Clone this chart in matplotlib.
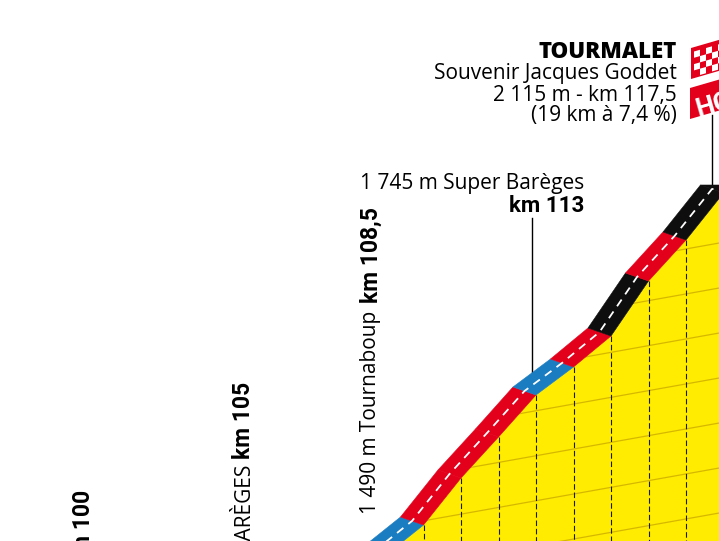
import numpy as np
import matplotlib
matplotlib.use("Agg")
import matplotlib.pyplot as plt
from matplotlib.patches import Polygon

# --- data: profile of the last kilometres (km, altitude m) ---
km = [108.5, 109.5, 110.5, 111.5, 112.5, 113.5, 114.5, 115.5, 116.5, 117.5, 118.5]
alt = [1391, 1451, 1545, 1627, 1711, 1767, 1829, 1939, 2021, 2115, 2115]
# colour class of each 1 km piece (between km[i] and km[i+1])
seg_class = ['blue', 'red', 'red', 'red', 'blue', 'red', 'black', 'red', 'black', 'black']
# faint perspective lines in the yellow area: altitude at km 118, rise per km
grid_alt = [1459, 1549, 1639, 1729, 1819, 1909, 1999, 2089]
grid_rise = 13.4

summit_km, summit_alt = 117.5, 2115
barege_km, barege_alt = 113.0, 1739

colors = {'blue': '#1a7cc1', 'red': '#e3001b', 'black': '#0e0e0e'}
YELLOW = '#ffec00'

# --- scales (km and metres per pixel of the 719x541 picture) ---
KM_PX = 37.5
M_PX = 2.0
X0, X1 = 98.82, 98.82 + 719 / KM_PX
Y0, Y1 = 2485 - 541 * M_PX, 2485
DX, DY = 23 / KM_PX, -8 * M_PX   # depth of the road ribbon


def pix(x, y):
    # picture pixel -> data
    return X0 + x / KM_PX, Y1 - y * M_PX


def skew_box(x, y, w, h, s):
    pts = [(x, y), (x + w, y - s * w), (x + w, y + h - s * w), (x, y + h)]
    return [pix(px, py) for px, py in pts]


fig = plt.figure(figsize=(7.19, 5.41), dpi=100)
ax = fig.add_axes([0, 0, 1, 1])
ax.set_xlim(X0, X1)
ax.set_ylim(Y0, Y1)
ax.axis('off')

km = np.array(km, dtype=float)
alt = np.array(alt, dtype=float)
bk, ba = km + DX, alt + DY

# yellow body under the road
body = list(zip(bk, ba)) + [(bk[-1], Y0 - 100), (bk[0], Y0 - 100)]
yellow = Polygon(body, closed=True, facecolor=YELLOW, edgecolor='none', zorder=1)
ax.add_patch(yellow)

xx = np.array([X0 - 1, X1 + 1])
for g in grid_alt:
    ln, = ax.plot(xx, g + grid_rise * (xx - 118), color='#c8a600', lw=0.9,
                  alpha=0.75, zorder=2)
    ln.set_clip_path(yellow)

# km markers
for i in range(len(km) - 2):
    ax.plot([bk[i], bk[i]], [ba[i], Y0 - 50], color='#1a1a1a', lw=0.8,
            linestyle=(0, (5, 2.5)), zorder=3)

# road ribbon
for i, c in enumerate(seg_class):
    quad = [(km[i], alt[i]), (km[i + 1], alt[i + 1]),
            (bk[i + 1], ba[i + 1]), (bk[i], ba[i])]
    ax.add_patch(Polygon(quad, closed=True, facecolor=colors[c],
                         edgecolor=colors[c], lw=0.4, zorder=4))
ax.plot(km + DX / 2, alt + DY / 2, color='white', lw=1.3,
        linestyle=(0, (4.5, 3.5)), zorder=5)

# summit pole and flags
line_km = summit_km + 0.3
ax.plot([line_km, line_km], [summit_alt, summit_alt + 140], color='black', lw=1.0, zorder=3)
ax.add_patch(Polygon(skew_box(691, 48, 45, 31, 0.29), closed=True,
                     facecolor='#e3001b', edgecolor='none', zorder=6))
for r in range(4):
    for c in range(6):
        if (r + c) % 2 == 0:
            cell = skew_box(694 + c * 6, 51.5 + r * 6.3 - 0.29 * c * 6, 6, 6.3, 0.29)
            ax.add_patch(Polygon(cell, closed=True, facecolor='white',
                                 edgecolor='none', zorder=7))
ax.add_patch(Polygon(skew_box(690, 88, 45, 31, 0.29), closed=True,
                     facecolor='#e3001b', edgecolor='none', zorder=6))
hx, hy = pix(693, 105)
ax.text(hx, hy, 'HC', color='white', fontsize=19, fontweight='bold',
        family='Roboto', rotation=16, ha='left', va='center', zorder=8)

REG = 'Open Sans'
BOLD = 'Roboto'
tx, _ = pix(677, 0)
ax.text(tx, pix(0, 52)[1], 'TOURMALET', family=REG, fontweight='heavy',
        fontsize=16, ha='right', va='center')
ax.text(tx, pix(0, 74)[1], 'Souvenir Jacques Goddet', family=REG,
        fontsize=15, ha='right', va='center')
ax.text(tx, pix(0, 95)[1], '2 115 m - km 117,5', family=REG,
        fontsize=15, ha='right', va='center')
ax.text(tx, pix(0, 116)[1], '(19 km à 7,4 %)', family=REG,
        fontsize=15, ha='right', va='center')

# Super Barèges
sx, _ = pix(584, 0)
ax.text(sx, pix(0, 184)[1], '1 745 m Super Barèges', family=REG,
        fontsize=15, ha='right', va='center')
ax.text(sx, pix(0, 206)[1], 'km 113', family=BOLD, fontweight='bold',
        fontsize=16, ha='right', va='center')
ax.plot([barege_km, barege_km], [barege_alt, pix(0, 218)[1]], color='black', lw=1.0, zorder=3)

# vertical labels
vx, _ = pix(371, 0)
ax.text(vx, pix(0, 207)[1], 'km 108,5', family=BOLD, fontweight='bold',
        fontsize=16.5, rotation=90, ha='center', va='top')
ax.text(vx, pix(0, 311)[1], '1 490 m Tournaboup', family=REG,
        fontsize=15, rotation=90, ha='center', va='top')

vx, _ = pix(244, 0)
ax.text(vx, pix(0, 382)[1], 'km 105', family=BOLD, fontweight='bold',
        fontsize=16.5, rotation=90, ha='center', va='top')
ax.text(vx, pix(0, 463)[1], 'BARÈGES', family=REG,
        fontsize=15, rotation=90, ha='center', va='top')

vx, _ = pix(84, 0)
ax.text(vx, pix(0, 490)[1], 'km 100', family=BOLD, fontweight='bold',
        fontsize=16.5, rotation=90, ha='center', va='top')

fig.savefig('out.png', dpi=100, facecolor='white')
